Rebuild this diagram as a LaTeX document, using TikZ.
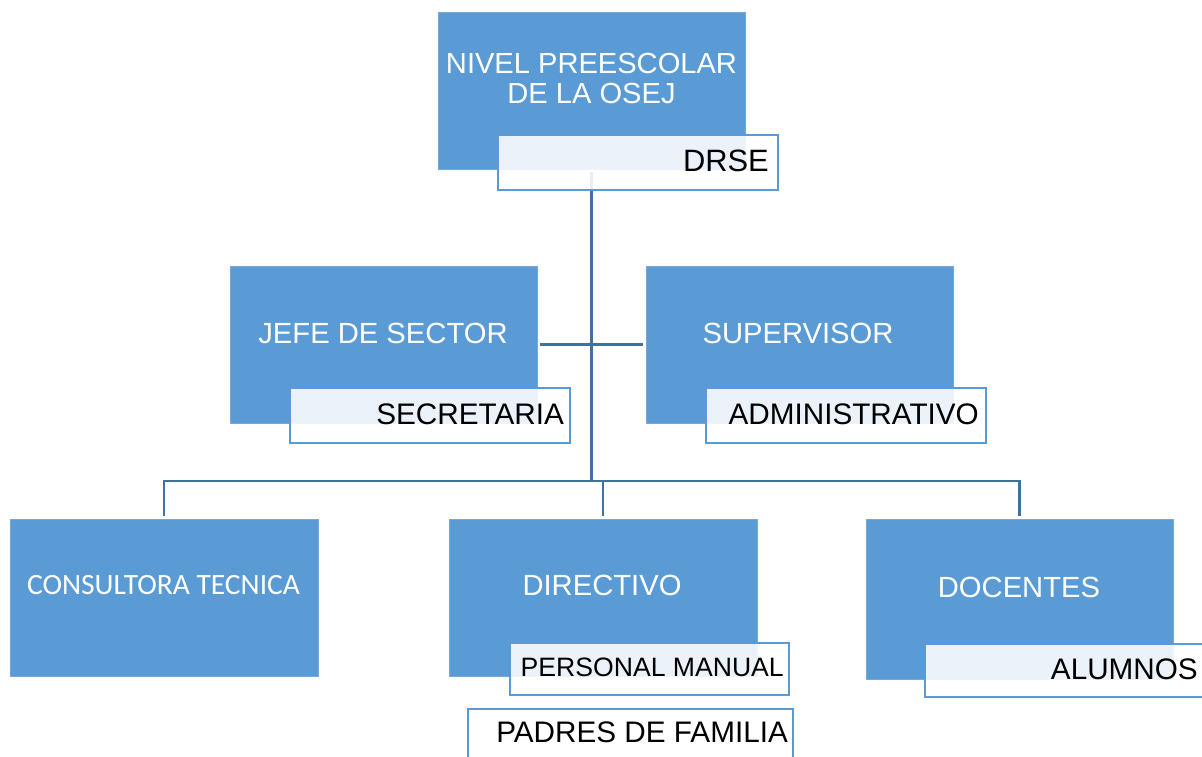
\documentclass[tikz,border=0pt]{standalone}
\usepackage{fontspec}
\setmainfont{Liberation Sans}
\newfontfamily\calibri{Carlito}
\definecolor{boxblue}{HTML}{5B9BD5}
\definecolor{linkblue}{HTML}{41719C}
\pgfdeclarelayer{bg}
\pgfsetlayers{bg,main}
\tikzset{
  bluebox/.style={rectangle, fill=boxblue, draw=boxblue!85!white, line width=0.8bp, inner sep=0pt, outer sep=0pt, minimum width=307bp, minimum height=157bp},
  subbox/.style={rectangle, fill=white, fill opacity=0.88, draw=boxblue, line width=2bp, inner sep=0pt, outer sep=0pt},
  wtext/.style={text=white, inner sep=0pt, font=\fontsize{29.3}{30}\selectfont},
  btext/.style={text=black, inner sep=0pt, anchor=east, font=\fontsize{29.8}{30}\selectfont},
  conn/.style={draw=linkblue, line width=2.6bp, shorten <=3bp, shorten >=3bp}
}
\begin{document}
\begin{tikzpicture}[x=1bp,y=-1bp]
\useasboundingbox (0,0) rectangle (1202,757);
% main boxes
\node[bluebox] (top) at (591.5,90.5) {};
\node[bluebox] (jefe) at (383.5,344.5) {};
\node[bluebox] (sup) at (799.5,344.5) {};
\node[bluebox, minimum width=308bp] (consult) at (164,597.5) {};
\node[bluebox, minimum width=308bp] (dir) at (603,597.5) {};
\node[bluebox, minimum height=160bp] (doc) at (1019.5,599) {};
% sub boxes
\node[subbox, minimum width=280bp, minimum height=55bp] (drse) at (638,162.5) {};
\node[subbox, minimum width=280bp, minimum height=55bp] (sec) at (430,415.5) {};
\node[subbox, minimum width=280bp, minimum height=55bp] (adm) at (846,415.5) {};
\node[subbox, minimum width=279bp, minimum height=52bp] (pm) at (649.5,669) {};
\node[subbox, minimum width=325bp, minimum height=71bp] (padres) at (630.5,744.5) {};
\node[subbox, minimum width=287bp, minimum height=53bp] (alum) at (1068.5,670.5) {};
% texts
\node[wtext, anchor=north, align=center, font=\fontsize{29.2}{30.5}\selectfont] (ttop) at (591.5,53) {NIVEL PREESCOLAR\\DE LA OSEJ};
\node[wtext] (tjefe) at (383,333) {JEFE DE SECTOR};
\node[wtext] (tsup) at (798,333) {SUPERVISOR};
\node[wtext, font=\calibri\fontsize{29.6}{30}\selectfont] (tcons) at (163.5,585.5) {CONSULTORA TECNICA};
\node[wtext] (tdir) at (602,585.5) {DIRECTIVO};
\node[wtext] (tdoc) at (1019,587.5) {DOCENTES};
\node[btext, font=\fontsize{31}{32}\selectfont] (tdrse) at (769,161) {DRSE};
\node[btext] (tsec) at (564,414.5) {SECRETARIA};
\node[btext] (tadm) at (979,414.5) {ADMINISTRATIVO};
\node[btext, font=\fontsize{26.7}{28}\selectfont] (tpm) at (784,667.5) {PERSONAL MANUAL};
\node[btext] (tpad) at (788,732.5) {PADRES DE FAMILIA};
\node[btext] (talum) at (1198,669.5) {ALUMNOS};
% connectors
\coordinate (bus) at (592,481);
\begin{pgfonlayer}{bg}
\draw[conn, shorten >=0pt] (top.south) -- (top.south |- bus);
\draw[conn] (jefe.east) -- (sup.west);
\draw[conn] (consult.north) |- (bus) -| (doc.north);
\draw[conn, shorten <=0pt] (dir.north |- bus) -- (dir.north);
\end{pgfonlayer}
\end{tikzpicture}
\end{document}
